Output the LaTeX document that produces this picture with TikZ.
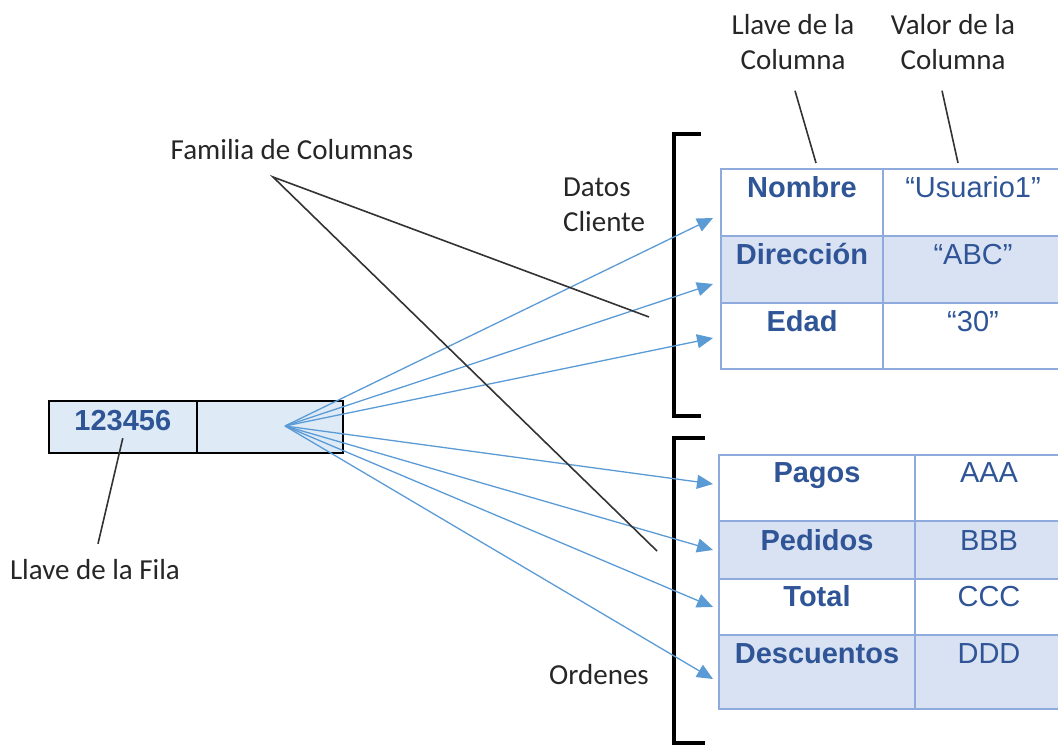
\documentclass[tikz,border=0pt]{standalone}
\usepackage{fontspec}
\setmainfont{Carlito}
\newfontfamily\arialf{Liberation Sans}
\usetikzlibrary{positioning,arrows.meta}
\definecolor{textoazul}{HTML}{2F5597}
\definecolor{bordeazul}{HTML}{8FAADC}
\definecolor{filaazul}{HTML}{D9E2F3}
\definecolor{claveazul}{HTML}{DEEBF7}
\definecolor{flechaazul}{HTML}{5B9BD5}
\tikzstyle{every node}=[font=\fontsize{14.5}{17.5}\selectfont]
\tikzstyle{celda}=[draw=bordeazul,line width=1pt,inner sep=0pt,anchor=north west]
\tikzstyle{relleno}=[celda,fill=filaazul]
\tikzstyle{caja}=[celda,draw=black,line width=0.8pt,fill=claveazul]
\tikzstyle{llave}=[font=\arialf\bfseries\fontsize{14.5}{17.5}\selectfont,text=textoazul,anchor=mid]
\tikzstyle{valor}=[font=\arialf\fontsize{14.5}{17.5}\selectfont,text=textoazul,anchor=mid]
\tikzstyle{etiqueta}=[align=center,text=black!85]
\tikzstyle{flecha}=[draw=flechaazul,line width=0.65pt,-{Triangle[length=8pt,width=7pt]}]
\tikzstyle{guia}=[draw=black!80,line width=0.8pt]
\tikzstyle{corchete}=[draw=black,line width=1.6pt]

\begin{document}
\begin{tikzpicture}[x=0.5pt,y=-0.5pt]
    \useasboundingbox (0,0) rectangle (1058,747);
    \clip (0,0) rectangle (1058,747);
    \node[caja,minimum width=74pt,minimum height=26pt] (fila) at (48,400) {};
    \node[caja,minimum width=73pt,minimum height=26pt] (familias) at (196,400) {};
    \node[llave] (clave) at ([yshift=-13pt]fila.north) {123456};
    \coordinate (abanico) at (285,426);

    \node[celda,minimum width=81pt,minimum height=33.5pt] (nombre) at (720,168) {};
    \node[celda,minimum width=90pt,minimum height=33.5pt] (usuario) at (882,168) {};
    \node[relleno,minimum width=81pt,minimum height=33.5pt] (direccion) at (720,235) {};
    \node[relleno,minimum width=90pt,minimum height=33.5pt] (abc) at (882,235) {};
    \node[celda,minimum width=81pt,minimum height=33pt] (edad) at (720,302) {};
    \node[celda,minimum width=90pt,minimum height=33pt] (treinta) at (882,302) {};
    \node[llave] (tnombre) at ([yshift=-12.5pt]nombre.north) {Nombre};
    \node[valor] (tusuario) at ([yshift=-12.5pt]usuario.north) {“Usuario1”};
    \node[llave] (tdireccion) at ([yshift=-12.5pt]direccion.north) {Dirección};
    \node[valor] (tabc) at ([yshift=-12.5pt]abc.north) {“ABC”};
    \node[llave] (tedad) at ([yshift=-12.5pt]edad.north) {Edad};
    \node[valor] (ttreinta) at ([yshift=-12.5pt]treinta.north) {“30”};

    \node[celda,minimum width=98pt,minimum height=33pt] (pagos) at (718,454) {};
    \node[celda,minimum width=74pt,minimum height=33pt] (aaa) at (914,454) {};
    \node[relleno,minimum width=98pt,minimum height=29pt] (pedidos) at (718,520) {};
    \node[relleno,minimum width=74pt,minimum height=29pt] (bbb) at (914,520) {};
    \node[celda,minimum width=98pt,minimum height=28pt] (total) at (718,578) {};
    \node[celda,minimum width=74pt,minimum height=28pt] (ccc) at (914,578) {};
    \node[relleno,minimum width=98pt,minimum height=37pt] (descuentos) at (718,634) {};
    \node[relleno,minimum width=74pt,minimum height=37pt] (ddd) at (914,634) {};
    \node[llave] (tpagos) at ([yshift=-12pt]pagos.north) {Pagos};
    \node[valor] (taaa) at ([yshift=-12pt]aaa.north) {AAA};
    \node[llave] (tpedidos) at ([yshift=-13pt]pedidos.north) {Pedidos};
    \node[valor] (tbbb) at ([yshift=-13pt]bbb.north) {BBB};
    \node[llave] (ttotal) at ([yshift=-12pt]total.north) {Total};
    \node[valor] (tccc) at ([yshift=-12pt]ccc.north) {CCC};
    \node[llave] (tdescuentos) at ([yshift=-12.5pt]descuentos.north) {Descuentos};
    \node[valor] (tddd) at ([yshift=-12.5pt]ddd.north) {DDD};

    \draw[corchete] (701,134) -- (674,134) -- (674,416) -- (701,416);
    \draw[corchete] (705,438) -- (674,438) -- (674,743) -- (705,743);

    \draw[flecha] (abanico) -- ([xshift=-3.5pt,yshift=-7.75pt]nombre.west);
    \draw[flecha] (abanico) -- ([xshift=-3.5pt,yshift=-7.25pt]direccion.west);
    \draw[flecha] (abanico) -- ([xshift=-3.5pt,yshift=-1pt]edad.west);
    \draw[flecha] (abanico) -- ([xshift=-2.5pt,yshift=2pt]pagos.west);
    \draw[flecha] (abanico) -- ([xshift=-2.5pt]pedidos.west);
    \draw[flecha] (abanico) -- ([xshift=-2.5pt]total.west);
    \draw[flecha] (abanico) -- ([xshift=-2.5pt,yshift=-3.5pt]descuentos.west);

    \node[etiqueta] (familia) at (292,150) {Familia de Columnas};
    \coordinate (famvertice) at (273,177);
    \coordinate (famdatos) at (649,317);
    \coordinate (famordenes) at (657,551);
    \draw[guia] (famdatos) -- (famvertice) -- (famordenes);
    \node[etiqueta,align=left,anchor=west] (datos) at (556,205) {Datos\\Cliente};
    \node[etiqueta] (ordenes) at (599,675) {Ordenes};

    \node[etiqueta] (llavecol) at (793,42) {Llave de la\\Columna};
    \node[etiqueta] (valorcol) at (953,42) {Valor de la\\Columna};
    \draw[guia] ([xshift=1pt,yshift=-7pt]llavecol.south) -- ([xshift=7pt,yshift=2.5pt]nombre.north);
    \draw[guia] ([xshift=-5.5pt,yshift=-7pt]valorcol.south) -- ([xshift=-7.5pt,yshift=2.5pt]usuario.north);

    \node[etiqueta] (llavefila) at (95,570) {Llave de la Fila};
    \draw[guia] ([xshift=1.5pt,yshift=4.5pt]llavefila.north) -- (clave.south);
\end{tikzpicture}
\end{document}
